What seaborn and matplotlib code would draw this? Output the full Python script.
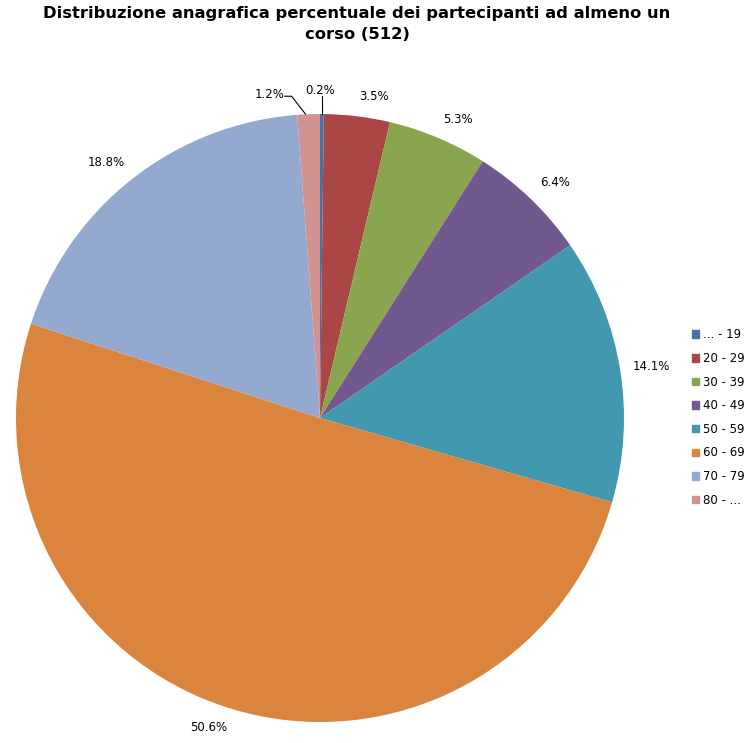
import numpy as np
import matplotlib
matplotlib.use("Agg")
import matplotlib.pyplot as plt
import seaborn as sns

categories = ["... - 19", "20 - 29", "30 - 39", "40 - 49", "50 - 59", "60 - 69", "70 - 79", "80 - ..."]
values = [0.2, 3.5, 5.3, 6.4, 14.1, 50.6, 18.8, 1.2]
labels = ["0.2%", "3.5%", "5.3%", "6.4%", "14.1%", "50.6%", "18.8%", "1.2%"]
colors_hex = ["#4572A7", "#AA4643", "#89A54E", "#71588F", "#4198AF", "#DB843D", "#93A9CF", "#D19392"]

sns.set_style("white")
plt.rcParams['font.family'] = ['DejaVu Sans']
plt.rcParams['text.color'] = 'black'
palette = sns.color_palette(colors_hex)

W, H = 752, 743
fig = plt.figure(figsize=(W / 100, H / 100), dpi=100)
ax = fig.add_axes([0, 0, 1, 1])

cx, cy, r = 320, H - 418, 304
wedges, _ = ax.pie(values, colors=palette, startangle=90, counterclock=False,
                   center=(cx, cy), radius=r, frame=True,
                   wedgeprops=dict(linewidth=0))
ax.set_xlim(0, W)
ax.set_ylim(0, H)
ax.set_aspect("equal")
ax.axis("off")

fs = 8.5
total = sum(values)
cum = 0
for i, (v, lab) in enumerate(zip(values, labels)):
    mid = (cum + v / 2) / total
    cum += v
    ang = np.deg2rad(90 - 360 * mid)
    ux, uy = np.cos(ang), np.sin(ang)
    if v < 1.0:
        px, py = cx + r * ux, cy + r * uy
        ax.plot([px, px], [py, py + 18], color="black", lw=0.8)
        ax.text(px - 2, py + 17, lab, ha="center", va="bottom", fontsize=fs, color="black")
        continue
    if v < 2.0:
        px, py = cx + r * ux, cy + r * uy
        ax.plot([px - 3, px - 17, px - 24], [py, py + 18, py + 18], color="black", lw=0.8)
        ax.text(px - 24, py + 20, lab, ha="right", va="center", fontsize=fs, color="black")
        continue
    gap = 13
    ax_ = cx + (r + gap) * ux
    ay_ = cy + (r + gap) * uy
    ha = "left" if ux > 0.05 else ("right" if ux < -0.05 else "center")
    va = "bottom" if uy > 0.3 else ("top" if uy < -0.3 else "center")
    ax.text(ax_, ay_, lab, ha=ha, va=va, fontsize=fs, color="black")

handles = [plt.Rectangle((0, 0), 1, 1, color=c) for c in palette]
leg = fig.legend(handles, categories, loc="center left", bbox_to_anchor=(681 / W, 1 - 417.5 / H),
                 frameon=False, fontsize=fs, handlelength=0.6, handleheight=0.6,
                 handletextpad=0.4, labelspacing=0.9)
for t in leg.get_texts():
    t.set_color("black")

fig.text(357 / W, 1 - 24 / H, "Distribuzione anagrafica percentuale dei partecipanti ad almeno un\ncorso (512)",
         ha="center", va="center", fontsize=11.8, fontweight="bold", linespacing=1.45, color="black")

fig.savefig("out.png", dpi=100)
